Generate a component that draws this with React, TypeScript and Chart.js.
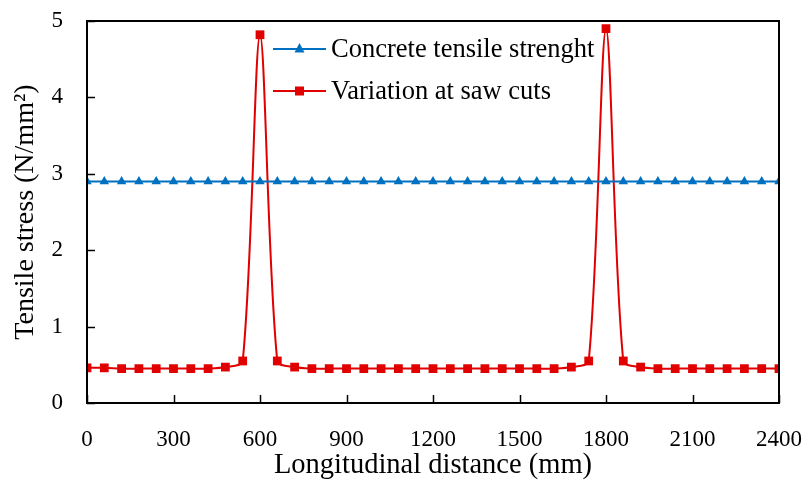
import React, { useEffect, useRef } from "react";
import { Chart, registerables } from "chart.js";

Chart.register(...registerables);

const distances = [
  0, 60, 120, 180, 240, 300, 360, 420, 480, 540, 600, 660, 720, 780, 840, 900, 960, 1020, 1080, 1140,
  1200, 1260, 1320, 1380, 1440, 1500, 1560, 1620, 1680, 1740, 1800, 1860, 1920, 1980, 2040, 2100, 2160,
  2220, 2280, 2340, 2400,
];
const tensileStrength = [
  2.9, 2.9, 2.9, 2.9, 2.9, 2.9, 2.9, 2.9, 2.9, 2.9, 2.9, 2.9, 2.9, 2.9, 2.9, 2.9, 2.9, 2.9, 2.9, 2.9,
  2.9, 2.9, 2.9, 2.9, 2.9, 2.9, 2.9, 2.9, 2.9, 2.9, 2.9, 2.9, 2.9, 2.9, 2.9, 2.9, 2.9, 2.9, 2.9, 2.9, 2.9,
];
const sawCutStress = [
  0.46, 0.46, 0.45, 0.45, 0.45, 0.45, 0.45, 0.45, 0.47, 0.55, 4.82, 0.55, 0.47, 0.45, 0.45, 0.45, 0.45,
  0.45, 0.45, 0.45, 0.45, 0.45, 0.45, 0.45, 0.45, 0.45, 0.45, 0.45, 0.47, 0.55, 4.9, 0.55, 0.47, 0.45,
  0.45, 0.45, 0.45, 0.45, 0.45, 0.45, 0.45,
];
const seriesNames = ["Concrete tensile strenght", "Variation at saw cuts"];
const xTitle = "Longitudinal distance (mm)";
const yTitle = "Tensile stress (N/mm²)";

const FONT = "'Liberation Serif', serif";
const BLUE = "#0070C0";
const RED = "#E00000";

const framePlugin = {
  id: "frame",
  afterDatasetsDraw(chart: any) {
    const { ctx, chartArea: a, scales } = chart;
    ctx.save();
    ctx.strokeStyle = "#000";
    ctx.lineWidth = 2;
    ctx.strokeRect(a.left, a.top, a.right - a.left, a.bottom - a.top);
    ctx.lineWidth = 1.5;
    ctx.beginPath();
    scales.x.ticks.forEach((t: any) => {
      const x = Math.round(scales.x.getPixelForValue(t.value)) + 0.5;
      ctx.moveTo(x, a.bottom);
      ctx.lineTo(x, a.bottom - 8);
    });
    scales.y.ticks.forEach((t: any) => {
      const y = Math.round(scales.y.getPixelForValue(t.value)) + 0.5;
      ctx.moveTo(a.left, y);
      ctx.lineTo(a.left + 8, y);
    });
    ctx.stroke();
    ctx.restore();
  },
  afterDraw(chart: any) {
    const { ctx } = chart;
    const rows = [
      { y: 49, color: BLUE, style: "triangle", text: seriesNames[0] },
      { y: 91, color: RED, style: "rect", text: seriesNames[1] },
    ];
    ctx.save();
    rows.forEach((r) => {
      ctx.strokeStyle = r.color;
      ctx.lineWidth = 2;
      ctx.beginPath();
      ctx.moveTo(273, r.y);
      ctx.lineTo(326, r.y);
      ctx.stroke();
      ctx.fillStyle = r.color;
      if (r.style === "triangle") {
        ctx.beginPath();
        ctx.moveTo(299.5, r.y - 6);
        ctx.lineTo(304.5, r.y + 3.5);
        ctx.lineTo(294.5, r.y + 3.5);
        ctx.closePath();
        ctx.fill();
      } else {
        ctx.fillRect(295, r.y - 4.5, 9, 9);
      }
      ctx.fillStyle = "#000";
      ctx.font = `26.5px ${FONT}`;
      ctx.textBaseline = "middle";
      ctx.textAlign = "left";
      ctx.fillText(r.text, 331, r.y + 1);
    });
    ctx.restore();
  },
};

export default function App() {
  const ref = useRef<HTMLCanvasElement>(null);
  useEffect(() => {
    document.body.style.margin = "0";
    const chart = new Chart(ref.current!, {
      type: "line",
      data: {
        datasets: [
          {
            label: seriesNames[0],
            data: distances.map((d, i) => ({ x: d, y: tensileStrength[i] })),
            borderColor: BLUE,
            backgroundColor: BLUE,
            borderWidth: 2,
            pointStyle: "triangle",
            pointRadius: 5.5,
            pointBorderWidth: 0,
            tension: 0,
          },
          {
            label: seriesNames[1],
            data: distances.map((d, i) => ({ x: d, y: sawCutStress[i] })),
            borderColor: RED,
            backgroundColor: RED,
            borderWidth: 2,
            pointStyle: "rect",
            pointRadius: 6.2,
            pointBorderWidth: 0,
            tension: 0.3,
          },
        ],
      },
      options: {
        animation: false,
        responsive: false,
        layout: { padding: { left: 0, top: 21, right: 29, bottom: 0 } },
        plugins: { legend: { display: false }, tooltip: { enabled: false } },
        scales: {
          x: {
            type: "linear",
            min: 0,
            max: 2400,
            grid: { display: false, drawTicks: false },
            border: { display: false },
            ticks: {
              stepSize: 300,
              padding: 23,
              color: "#000",
              font: { family: FONT, size: 23 },
              callback: (v: any) => String(v),
            },
            title: { display: true, text: xTitle, color: "#000", font: { family: FONT, size: 28.5 }, padding: { top: 0, bottom: 2 } },
            afterFit: (s: any) => {
              s.height = 82;
              s.paddingLeft = 0;
              s.paddingRight = 0;
            },
          },
          y: {
            min: 0,
            max: 5,
            grid: { display: false, drawTicks: false },
            border: { display: false },
            ticks: { stepSize: 1, padding: 24, color: "#000", font: { family: FONT, size: 23 } },
            title: { display: true, text: yTitle, color: "#000", font: { family: FONT, size: 28 }, padding: { top: 9, bottom: 0 } },
            afterFit: (s: any) => {
              s.width = 87;
              s.paddingTop = 0;
              s.paddingBottom = 0;
            },
          },
        },
      },
      plugins: [framePlugin],
    });
    return () => chart.destroy();
  }, []);
  return (
    <div style={{ width: 808, height: 485 }}>
      <canvas ref={ref} width={808} height={485} style={{ display: "block" }} />
    </div>
  );
}
